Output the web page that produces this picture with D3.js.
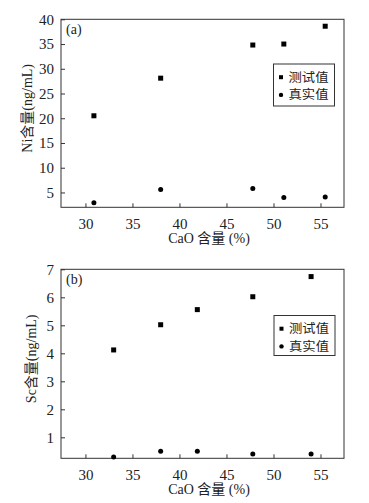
<!DOCTYPE html>
<html><head><meta charset="utf-8">
<script src="https://cdn.jsdelivr.net/npm/d3@7"></script>
<style>
html,body{margin:0;padding:0;background:#fff;}
text{font-family:"Liberation Serif","Times New Roman","Noto Sans CJK SC",serif;fill:#222;}
</style></head>
<body>
<svg id="c" width="369" height="503"></svg>
<script>
const xTicks = [30, 35, 40, 45, 50, 55];
const seriesNames = ["测试值", "真实值"];

const aCaO  = [30.9, 38.0, 47.8, 51.1, 55.5];
const aTest = [20.5, 28.1, 34.8, 35.0, 38.6];
const aTrue = [2.9, 5.6, 5.8, 4.0, 4.1];
const aYTicks = [5, 10, 15, 20, 25, 30, 35, 40];

const bCaO  = [33.0, 38.0, 41.9, 47.8, 54.0];
const bTest = [4.12, 5.02, 5.56, 6.02, 6.74];
const bTrue = [0.3, 0.5, 0.5, 0.4, 0.4];
const bYTicks = [1, 2, 3, 4, 5, 6, 7];

const svg = d3.select("#c");

function panel(opt) {
  const {left, right, top, bottom, xDom, yDom, yTicks, cao, test, truth, tag, yTitle, xTitleY, yTitleX, legend} = opt;
  const x = d3.scaleLinear().domain(xDom).range([left, right]);
  const y = d3.scaleLinear().domain(yDom).range([bottom, top]);
  const g = svg.append("g");
  const stroke = "#333";

  const xa = g.append("g").attr("transform", `translate(0,${bottom})`)
    .call(d3.axisBottom(x).tickValues(xTicks).tickSize(-4).tickPadding(11).tickFormat(d3.format("d")));
  const ya = g.append("g").attr("transform", `translate(${left},0)`)
    .call(d3.axisLeft(y).tickValues(yTicks).tickSize(-4).tickPadding(7).tickFormat(d3.format("d")));
  [xa, ya].forEach(a => {
    a.select(".domain").remove();
    a.selectAll("line").attr("stroke", stroke);
    a.selectAll("text").style("font-size", "15px").attr("fill", "#222")
      .style("font-family", "Liberation Serif");
  });
  g.append("rect").attr("x", left).attr("y", top).attr("width", right - left).attr("height", bottom - top)
    .attr("fill", "none").attr("stroke", stroke).attr("stroke-width", 1);

  g.selectAll(".sq").data(cao.map((c, i) => [c, test[i]])).join("rect")
    .attr("x", d => x(d[0]) - 2.5).attr("y", d => y(d[1]) - 2.5)
    .attr("width", 5).attr("height", 5).attr("fill", "#000");
  g.selectAll(".ci").data(cao.map((c, i) => [c, truth[i]])).join("circle")
    .attr("cx", d => x(d[0])).attr("cy", d => y(d[1])).attr("r", 2.5).attr("fill", "#000");

  g.append("text").attr("x", left + 5).attr("y", top + 15).text(tag).style("font-size", "14px");

  g.append("text").attr("x", 209).attr("y", xTitleY).attr("text-anchor", "middle")
    .style("font-size", "14px").text("CaO 含量 (%)");
  g.append("text").attr("transform", `translate(${yTitleX},${(top + bottom) / 2 - 5}) rotate(-90)`)
    .attr("text-anchor", "middle").style("font-size", "14px").text(yTitle);

  const lg = g.append("g");
  lg.append("rect").attr("x", legend.x).attr("y", legend.y).attr("width", 61).attr("height", legend.h)
    .attr("fill", "#fff").attr("stroke", stroke);
  seriesNames.forEach((n, i) => {
    const cy = legend.y + 13.2 + i * 17.7;
    if (i === 0) lg.append("rect").attr("x", legend.x + 5.5).attr("y", cy - 2).attr("width", 4).attr("height", 4).attr("fill", "#000");
    else lg.append("circle").attr("cx", legend.x + 7.5).attr("cy", cy).attr("r", 2.2).attr("fill", "#000");
    lg.append("text").attr("x", legend.x + 15).attr("y", cy + 4.5).style("font-size", "12.5px")
      .attr("textLength", 40).attr("lengthAdjust", "spacingAndGlyphs")
      .style("font-family", "Noto Sans CJK SC").text(n);
  });
}

panel({left: 61, right: 344, top: 19.3, bottom: 207.3, xDom: [27.4, 57.5], yDom: [2, 40], yTicks: aYTicks,
  cao: aCaO, test: aTest, truth: aTrue, tag: "(a)", yTitle: "Ni含量(ng/mL)", xTitleY: 243, yTitleX: 32,
  legend: {x: 273.5, y: 64, h: 42}});
panel({left: 61, right: 344, top: 269.3, bottom: 458.3, xDom: [27.4, 57.5], yDom: [0.25, 7], yTicks: bYTicks,
  cao: bCaO, test: bTest, truth: bTrue, tag: "(b)", yTitle: "Sc含量(ng/mL)", xTitleY: 494, yTitleX: 36,
  legend: {x: 274, y: 315.5, h: 40}});
</script>
</body></html>
